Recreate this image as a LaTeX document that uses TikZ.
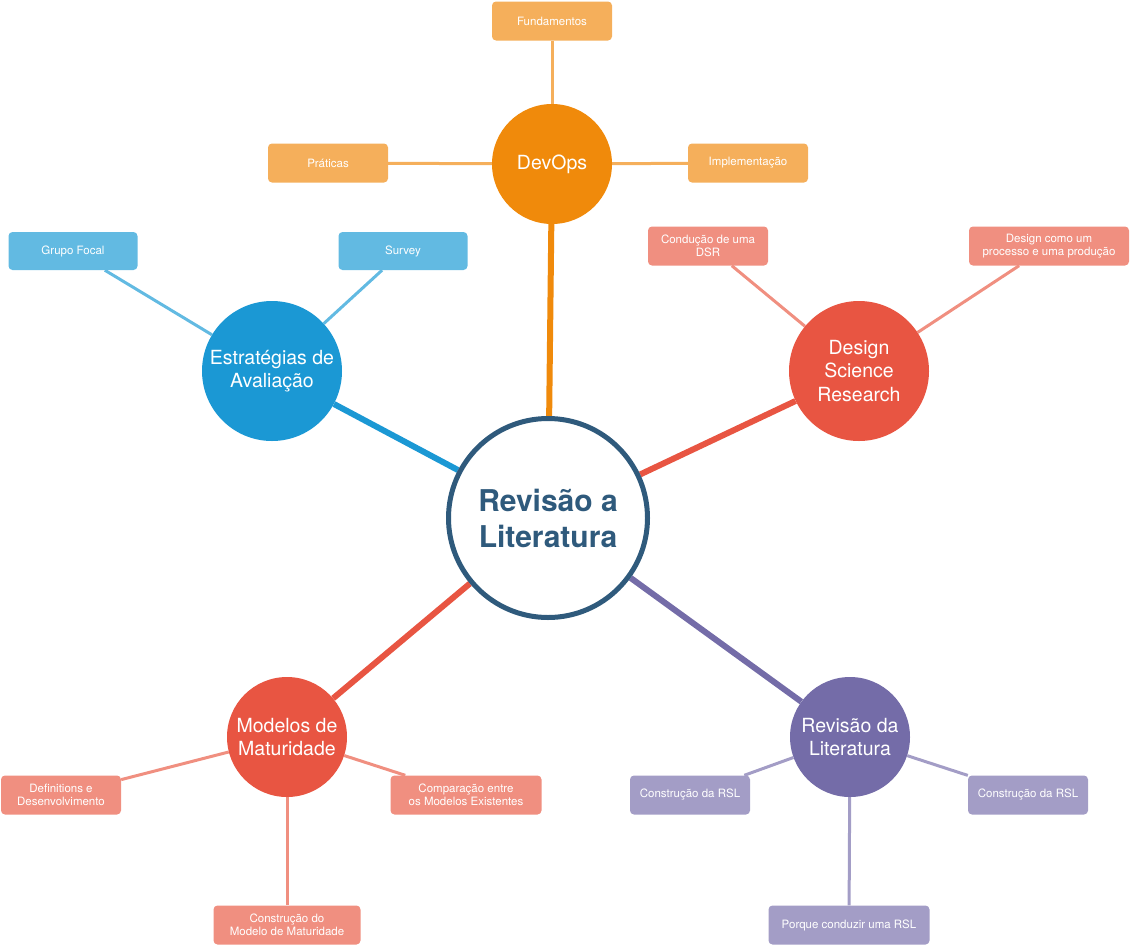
\documentclass[tikz,border=0pt]{standalone}
\usepackage{fontspec}
\setmainfont{TeX Gyre Heros}
\usetikzlibrary{backgrounds}
\definecolor{navyC}{HTML}{2F5A7C}
\definecolor{orangeM}{HTML}{F08A0B}
\definecolor{orangeL}{HTML}{F5AF5B}
\definecolor{blueM}{HTML}{1B98D4}
\definecolor{blueL}{HTML}{62BAE2}
\definecolor{redM}{HTML}{E85542}
\definecolor{redL}{HTML}{F08F80}
\definecolor{purpleM}{HTML}{746CA8}
\definecolor{purpleL}{HTML}{A39DC6}

\begin{document}
\begin{tikzpicture}[x=1pt,y=-1pt,
    hub/.style={circle,inner sep=0pt,minimum size=120pt,text=white,align=center,
      font=\fontsize{19.5}{23.5}\selectfont},
    leaf/.style={rounded corners=4pt,minimum width=120pt,minimum height=39pt,inner sep=2pt,
      text=white,align=center,font=\fontsize{11.5}{13}\selectfont},
    trunk/.style={line width=6pt},
    twig/.style={line width=3pt}]
      \useasboundingbox (0,0) rectangle (1132,948);

      % centro
      \node[circle,draw=navyC,line width=5pt,fill=white,minimum size=199pt,inner sep=0pt,
        align=center,text=navyC,font=\fontsize{30}{36}\selectfont\bfseries] (rev) at (548,518) {Revisão a\\Literatura};

      % ramos
      \node[hub,fill=orangeM] (devops) at (552,164) {DevOps};
      \node[hub,fill=blueM,minimum size=140pt] (estr) at (272,371) {Estratégias de\\Avaliação};
      \node[hub,fill=redM,minimum size=140pt] (dsr) at (859,371) {Design\\Science\\Research};
      \node[hub,fill=redM] (mod) at (287,737) {Modelos de\\Maturidade};
      \node[hub,fill=purpleM] (rsl) at (850,737) {Revisão da\\Literatura};

      % folhas
      \node[leaf,fill=orangeL] (fund) at (552,21) {Fundamentos};
      \node[leaf,fill=orangeL] (prat) at (328,163) {Práticas};
      \node[leaf,fill=orangeL] (impl) at (748,163) {Implementação};
      \node[leaf,fill=blueL,minimum width=129pt,minimum height=38pt] (grupo) at (73,251) {Grupo Focal};
      \node[leaf,fill=blueL,minimum width=129pt,minimum height=38pt] (survey) at (403,251) {Survey};
      \node[leaf,fill=redL] (cond) at (708,246) {Condução de uma\\DSR};
      \node[leaf,fill=redL,minimum width=160pt] (proc) at (1049,246) {Design como um\\processo e uma produção};
      \node[leaf,fill=redL] (defi) at (61,795) {Definitions e\\Desenvolvimento};
      \node[leaf,fill=redL,minimum width=151pt] (comp) at (466,795) {Comparação entre\\os Modelos Existentes};
      \node[leaf,fill=redL,minimum width=147pt] (cmod) at (287,925) {Construção do\\Modelo de Maturidade};
      \node[leaf,fill=purpleL] (crsla) at (690,795) {Construção da RSL};
      \node[leaf,fill=purpleL] (crslb) at (1028,795) {Construção da RSL};
      \node[leaf,fill=purpleL,minimum width=161pt] (porq) at (849,925) {Porque conduzir uma RSL};

      \begin{scope}[on background layer]
        \draw[trunk,orangeM] (rev) -- (devops);
        \draw[trunk,blueM] (rev) -- (estr);
        \draw[trunk,redM] (rev) -- (dsr);
        \draw[trunk,redM] (rev) -- (mod);
        \draw[trunk,purpleM] (rev) -- (rsl);

        \draw[twig,orangeL] (devops) -- (fund);
        \draw[twig,orangeL] (devops) -- (prat);
        \draw[twig,orangeL] (devops) -- (impl);
        \draw[twig,blueL] (estr) -- (grupo);
        \draw[twig,blueL] (estr) -- (survey);
        \draw[twig,redL] (dsr) -- (cond);
        \draw[twig,redL] (dsr) -- (proc);
        \draw[twig,redL] (mod) -- (defi);
        \draw[twig,redL] (mod) -- (comp);
        \draw[twig,redL] (mod) -- (cmod);
        \draw[twig,purpleL] (rsl) -- (crsla);
        \draw[twig,purpleL] (rsl) -- (crslb);
        \draw[twig,purpleL] (rsl) -- (porq);
      \end{scope}
\end{tikzpicture}
\end{document}
